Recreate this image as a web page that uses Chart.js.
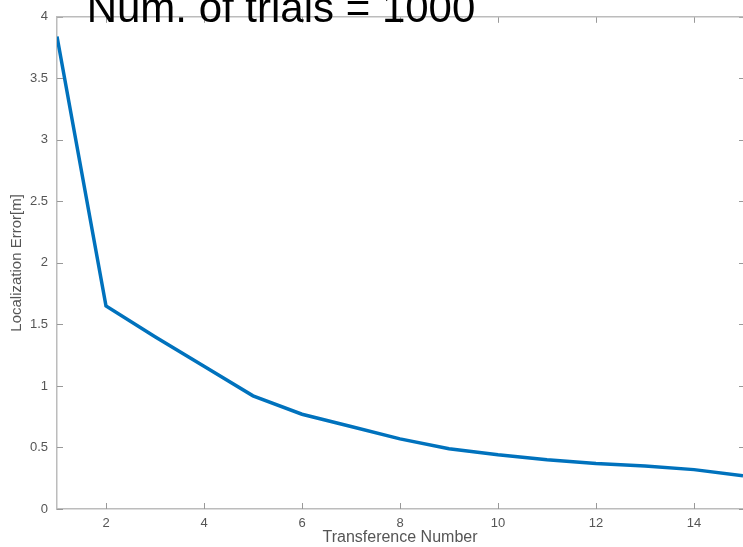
<!DOCTYPE html>
<html>
<head>
<meta charset="utf-8">
<script src="https://cdn.jsdelivr.net/npm/chart.js@4"></script>
<style>
  html, body { margin: 0; padding: 0; background: #fff; overflow: hidden; }
  #wrap { position: relative; width: 743px; height: 547px; }
  #title {
    position: absolute; left: 0; top: 0; width: 562px; text-align: center;
    font-family: "Liberation Sans", Arial, sans-serif; font-size: 42px; line-height: 1;
    color: #000; margin-top: -13px; white-space: nowrap;
  }
</style>
</head>
<body>
<div id="wrap">
  <canvas id="chart" width="743" height="547"></canvas>
  <div id="title">Num. of trials = 1000</div>
</div>
<script>
// data
const transferences = [1, 2, 3, 4, 5, 6, 7, 8, 9, 10, 11, 12, 13, 14, 15];
const errors = [3.84, 1.65, 1.40, 1.16, 0.92, 0.77, 0.67, 0.57, 0.49, 0.44, 0.40, 0.37, 0.35, 0.32, 0.27];
const xTicks = [2, 4, 6, 8, 10, 12, 14];
const yTicks = [0, 0.5, 1, 1.5, 2, 2.5, 3, 3.5, 4];

const axisColor = '#bcbcbc';
const textColor = '#555';

// small inward tick marks on all four sides, like the original
const innerTicks = {
  id: 'innerTicks',
  afterDraw(chart) {
    const {ctx, chartArea: a, scales: {x, y}} = chart;
    ctx.save();
    ctx.strokeStyle = '#999';
    ctx.lineWidth = 1;
    ctx.beginPath();
    xTicks.forEach(v => {
      const px = Math.round(x.getPixelForValue(v)) + 0.5;
      ctx.moveTo(px, a.bottom); ctx.lineTo(px, a.bottom - 6);
      ctx.moveTo(px, a.top); ctx.lineTo(px, a.top + 6);
    });
    yTicks.forEach(v => {
      const py = Math.round(y.getPixelForValue(v)) + 0.5;
      ctx.moveTo(a.left, py); ctx.lineTo(a.left + 6, py);
      ctx.moveTo(a.right, py); ctx.lineTo(a.right - 4, py);
    });
    ctx.stroke();
    // top frame line
    ctx.strokeStyle = axisColor;
    ctx.lineWidth = 1.5;
    ctx.beginPath();
    ctx.moveTo(a.left, a.top); ctx.lineTo(a.right, a.top);
    ctx.stroke();
    ctx.restore();
  }
};

const ctx = document.getElementById('chart').getContext('2d');
const myChart = new Chart(ctx, {
  type: 'line',
  data: {
    datasets: [{
      data: transferences.map((t, i) => ({x: t, y: errors[i]})),
      borderColor: '#0072BD',
      borderWidth: 3.5,
      pointRadius: 0,
      tension: 0,
      fill: false
    }]
  },
  options: {
    responsive: false,
    animation: false,
    layout: { padding: { top: 13, right: 0, left: 0, bottom: 0 } },
    plugins: {
      legend: { display: false },
      tooltip: { enabled: false }
    },
    scales: {
      x: {
        type: 'linear',
        min: 1,
        max: 15,
        afterBuildTicks: s => { s.ticks = xTicks.map(v => ({value: v})); },
        afterFit: s => { s.height = 38; },
        grid: { display: false, drawTicks: false },
        border: { display: true, color: axisColor, width: 1.5 },
        ticks: {
          padding: 7,
          maxRotation: 0,
          color: textColor,
          callback: v => String(v),
          font: { family: 'Liberation Sans', size: 13 }
        },
        title: {
          display: true,
          text: 'Transference Number',
          color: textColor,
          padding: { top: 0, bottom: 0 },
          font: { family: 'Liberation Sans', size: 16 }
        }
      },
      y: {
        min: 0,
        max: 4,
        afterBuildTicks: s => { s.ticks = yTicks.map(v => ({value: v})); },
        afterFit: s => { s.width = 57; },
        grid: { display: false, drawTicks: false },
        border: { display: true, color: axisColor, width: 1.5 },
        ticks: {
          padding: 9,
          color: textColor,
          callback: v => String(v),
          font: { family: 'Liberation Sans', size: 13 }
        },
        title: {
          display: true,
          text: 'Localization Error[m]',
          color: textColor,
          padding: { top: 8, bottom: 0 },
          font: { family: 'Liberation Sans', size: 15 }
        }
      }
    }
  },
  plugins: [innerTicks]
});
</script>
</body>
</html>
